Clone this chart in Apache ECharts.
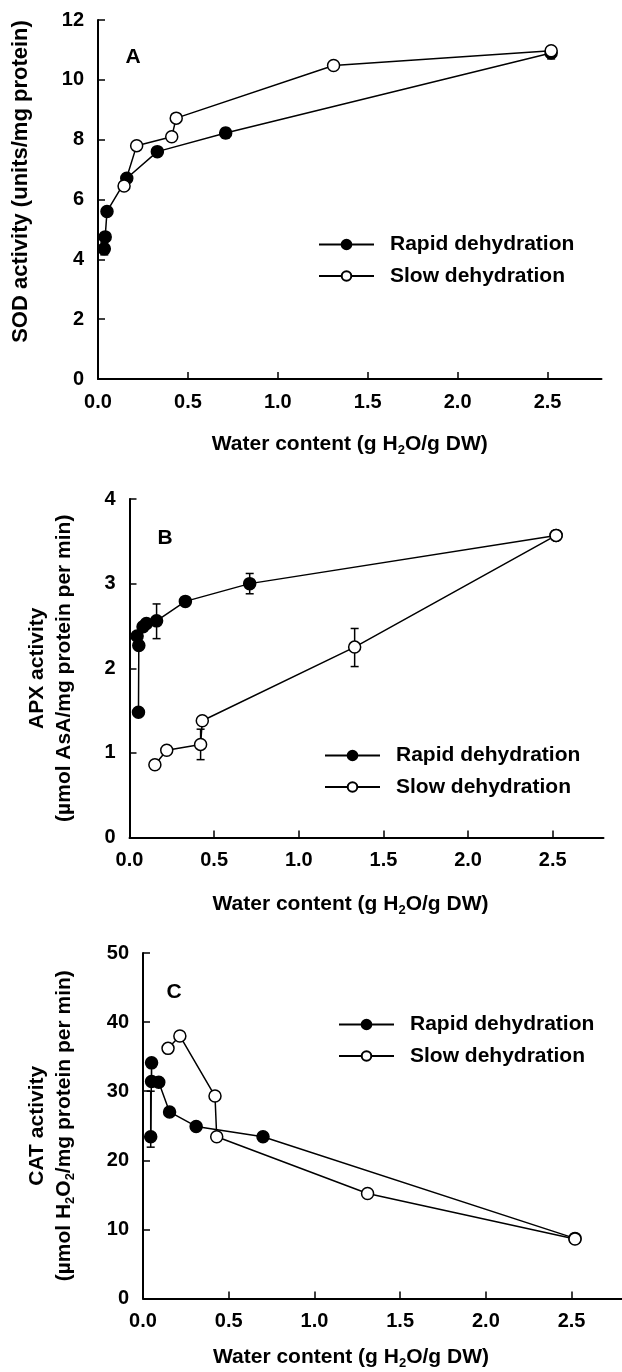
<!DOCTYPE html>
<html>
<head>
<meta charset="utf-8">
<script src="https://cdn.jsdelivr.net/npm/echarts@6/dist/echarts.min.js"></script>
<style>
  html, body { margin: 0; padding: 0; background: #fff; }
  #chart { width: 622px; height: 1372px; }
</style>
</head>
<body>
<div id="chart"></div>
<script>
// tick labels on the water content axis
var xTicks = [0, 0.5, 1.0, 1.5, 2.0, 2.5]
var legendNames = ['Rapid dehydration', 'Slow dehydration']

// A - SOD, [water content, activity], from fresh to dry
var sodRapid = [[2.52, 10.9], [0.71, 8.22], [0.33, 7.6], [0.16, 6.71], [0.05, 5.6], [0.04, 4.75], [0.035, 4.35]]
var sodSlow = [[2.52, 10.97], [1.31, 10.48], [0.435, 8.72], [0.41, 8.1], [0.215, 7.8], [0.145, 6.45]]
// error bars [x, low, high]
var sodErr = [[2.52, 10.7, 11.05], [0.71, 8.05, 8.38], [0.035, 4.15, 4.55]]

// B - APX
var apxRapid = [[2.52, 3.57], [0.71, 3.0], [0.33, 2.79], [0.16, 2.56], [0.1, 2.53], [0.08, 2.49], [0.045, 2.38], [0.055, 2.27], [0.053, 1.48]]
var apxSlow = [[2.52, 3.57], [1.33, 2.25], [0.43, 1.38], [0.42, 1.1], [0.22, 1.03], [0.15, 0.86]]
var apxErr = [[0.16, 2.35, 2.76], [0.71, 2.88, 3.12], [0.42, 0.92, 1.28], [1.33, 2.02, 2.47]]

// C - CAT
var catRapid = [[2.52, 8.7], [0.7, 23.4], [0.31, 24.9], [0.155, 27.0], [0.092, 31.3], [0.05, 31.4], [0.05, 34.1], [0.045, 23.4]]
var catSlow = [[2.52, 8.6], [1.31, 15.2], [0.43, 23.4], [0.42, 29.3], [0.215, 38.0], [0.146, 36.2]]
var catErr = [[0.045, 21.9, 30.0]]

var FONT = 'Arial, "Liberation Sans", sans-serif'
var sub = { fontSize: 13, fontWeight: 'bold', fontFamily: FONT, padding: [12, 0, 0, 0] }

var xAxisBase = function (idx, padRight, gap) {
  return {
    type: 'value',
    gridIndex: idx,
    min: 0,
    max: 2.8,
    name: 'Water content (g H{sub|2}O/g DW)',
    nameLocation: 'middle',
    nameGap: gap,
    nameTextStyle: {
      color: '#000', fontSize: 21, fontWeight: 'bold', fontFamily: FONT,
      padding: [0, padRight, 0, 0],
      rich: { sub: sub }
    },
    splitLine: { show: false },
    axisLine: { lineStyle: { color: '#000', width: 2 } },
    axisTick: { inside: true, length: 7, customValues: xTicks, lineStyle: { color: '#000', width: 1.5 } },
    axisLabel: {
      customValues: xTicks,
      margin: 13,
      color: '#000',
      fontSize: 20,
      fontWeight: 'bold',
      fontFamily: FONT,
      formatter: function (v) { return v.toFixed(1) }
    }
  }
}

var yAxisBase = function (idx, max, interval, name, size, gap, pad, rich) {
  return {
    type: 'value',
    gridIndex: idx,
    min: 0,
    max: max,
    interval: interval,
    name: name,
    nameLocation: 'middle',
    nameGap: gap,
    nameTextStyle: {
      color: '#000', fontSize: size, fontWeight: 'bold', fontFamily: FONT,
      lineHeight: 27, padding: pad, rich: rich || {}
    },
    splitLine: { show: false },
    axisLine: { show: true, lineStyle: { color: '#000', width: 2 } },
    axisTick: { show: true, inside: true, length: 7, lineStyle: { color: '#000', width: 1.5 } },
    axisLabel: { margin: 14, color: '#000', fontSize: 20, fontWeight: 'bold', fontFamily: FONT }
  }
}

var lineSeries = function (name, idx, data, filled) {
  return {
    name: name,
    type: 'line',
    xAxisIndex: idx,
    yAxisIndex: idx,
    data: data,
    symbol: 'circle',
    symbolSize: 12,
    showAllSymbol: true,
    z: filled ? 3 : 4,
    lineStyle: { color: '#000', width: 1.5 },
    itemStyle: {
      color: filled ? '#000' : '#fff',
      borderColor: '#000',
      borderWidth: 1.5
    },
    emphasis: { disabled: true }
  }
}

// 误差线
var errorSeries = function (idx, data) {
  return {
    type: 'custom',
    xAxisIndex: idx,
    yAxisIndex: idx,
    data: data,
    z: 2,
    encode: { x: 0, y: [1, 2] },
    renderItem: function (params, api) {
      var x = api.value(0)
      var lo = api.coord([x, api.value(1)])
      var hi = api.coord([x, api.value(2)])
      var st = { stroke: '#000', lineWidth: 1.5 }
      return {
        type: 'group',
        children: [
          { type: 'line', shape: { x1: lo[0], y1: lo[1], x2: hi[0], y2: hi[1] }, style: st },
          { type: 'line', shape: { x1: lo[0] - 4, y1: lo[1], x2: lo[0] + 4, y2: lo[1] }, style: st },
          { type: 'line', shape: { x1: hi[0] - 4, y1: hi[1], x2: hi[0] + 4, y2: hi[1] }, style: st }
        ]
      }
    }
  }
}

var legendAt = function (left, top) {
  return {
    orient: 'vertical',
    left: left,
    top: top,
    data: legendNames,
    itemWidth: 55,
    itemHeight: 12,
    itemGap: 10.5,
    selectedMode: false,
    textStyle: { color: '#000', fontSize: 21, fontWeight: 'bold', fontFamily: FONT, padding: [0, 0, 0, 11] }
  }
}

var panelLabel = function (text, x, y) {
  return {
    type: 'text',
    x: x,
    y: y,
    style: { text: text, fill: '#000', font: 'bold 21px ' + FONT, align: 'center', verticalAlign: 'middle' }
  }
}

var chart = echarts.init(document.getElementById('chart'))
chart.setOption({
  animation: false,
  backgroundColor: '#fff',
  grid: [
    { left: 98, top: 20, width: 503.5, height: 359, outerBoundsMode: 'none' },
    { left: 129.5, top: 499, width: 474, height: 338.5, outerBoundsMode: 'none' },
    { left: 143, top: 953, width: 480, height: 345.5, outerBoundsMode: 'none' }
  ],
  xAxis: [xAxisBase(0, 0, 53), xAxisBase(1, 32, 54), xAxisBase(2, 64, 46)],
  yAxis: [
    yAxisBase(0, 12, 2, 'SOD activity (units/mg protein)', 22, 64, [0, 0, 0, 36]),
    yAxisBase(1, 4, 1, 'APX activity\n(µmol AsA/mg protein per min)', 21, 52, 0),
    yAxisBase(2, 50, 10, 'CAT activity\n(µmol H{sub|2}O{sub|2}/mg protein per min)', 21, 65, 0, { sub: sub })
  ],
  legend: [legendAt(313, 229), legendAt(319, 740), legendAt(333, 1009)],
  graphic: [
    panelLabel('A', 133, 57),
    panelLabel('B', 165, 538),
    panelLabel('C', 174, 992)
  ],
  series: [
    errorSeries(0, sodErr),
    lineSeries('Rapid dehydration', 0, sodRapid, true),
    lineSeries('Slow dehydration', 0, sodSlow, false),
    errorSeries(1, apxErr),
    lineSeries('Rapid dehydration', 1, apxRapid, true),
    lineSeries('Slow dehydration', 1, apxSlow, false),
    errorSeries(2, catErr),
    lineSeries('Rapid dehydration', 2, catRapid, true),
    lineSeries('Slow dehydration', 2, catSlow, false)
  ]
})
</script>
</body>
</html>
